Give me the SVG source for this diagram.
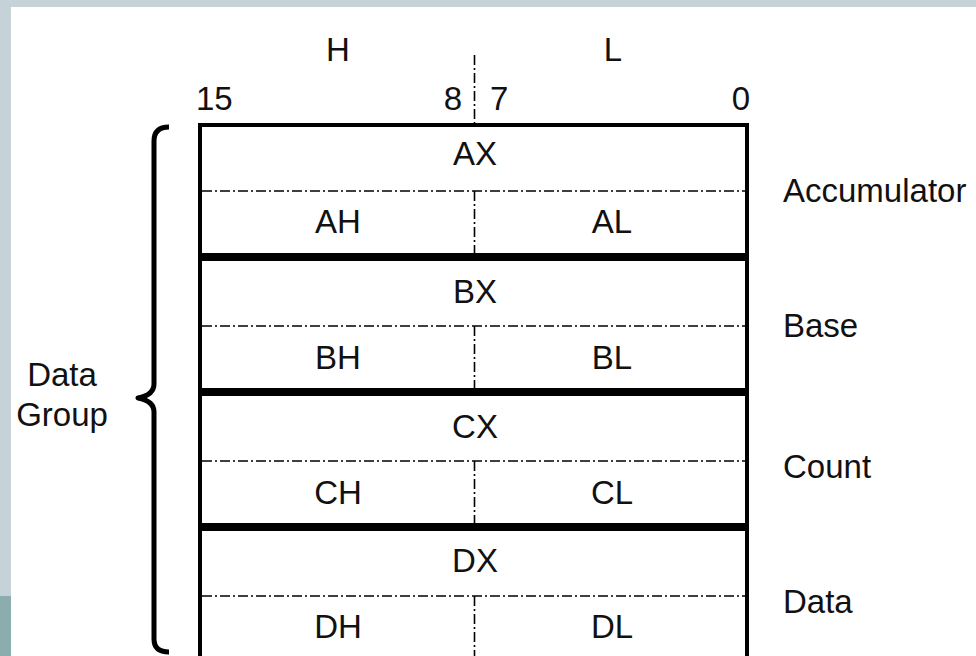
<svg xmlns="http://www.w3.org/2000/svg" width="976" height="656" viewBox="0 0 976 656">
<defs>
<style>
text{font-family:"Liberation Sans",Arial,sans-serif;font-size:33px;fill:#111}
.m{text-anchor:middle}
.e{text-anchor:end}
.thick{stroke:#000;stroke-width:8}
.frame{stroke:#000;stroke-width:4;fill:none}
.dd{stroke:#000;stroke-width:1.6;stroke-dasharray:10 3 2 3;fill:none}
.brace{stroke:#000;stroke-width:5;fill:none;stroke-linejoin:round}
</style>
</defs>
<rect x="0" y="0" width="976" height="656" fill="#ffffff"/>
<rect x="0" y="0" width="976" height="7" fill="#c5d3d9"/>
<rect x="0" y="0" width="11" height="596" fill="#c5d3d9"/>
<rect x="0" y="596" width="11" height="60" fill="#8badad"/>

<g id="header">
<text class="m" x="338" y="61">H</text>
<text class="m" x="613" y="61">L</text>
<text x="196" y="110">15</text>
<text class="e" x="462" y="110">8</text>
<text x="490" y="110">7</text>
<text class="e" x="750" y="110">0</text>
<line class="dd" x1="474.5" y1="55" x2="474.5" y2="123"/>
</g>

<g id="frame">
<line class="frame" x1="200" y1="125" x2="747" y2="125"/>
<line class="frame" x1="200" y1="123" x2="200" y2="660"/>
<line class="frame" x1="747" y1="123" x2="747" y2="660"/>
</g>

<g id="AX">
<text class="m" x="475" y="165">AX</text>
<line class="dd" x1="202" y1="191" x2="745" y2="191"/>
<line class="dd" x1="474.5" y1="191" x2="474.5" y2="253"/>
<text class="m" x="338" y="233">AH</text>
<text class="m" x="612" y="233">AL</text>
<line class="thick" x1="198" y1="257" x2="749" y2="257"/>
<text x="783" y="202">Accumulator</text>
</g>

<g id="BX">
<text class="m" x="475" y="303">BX</text>
<line class="dd" x1="202" y1="326" x2="745" y2="326"/>
<line class="dd" x1="474.5" y1="326" x2="474.5" y2="388"/>
<text class="m" x="338" y="369">BH</text>
<text class="m" x="612" y="369">BL</text>
<line class="thick" x1="198" y1="392" x2="749" y2="392"/>
<text x="783" y="337">Base</text>
</g>

<g id="CX">
<text class="m" x="475" y="438">CX</text>
<line class="dd" x1="202" y1="461" x2="745" y2="461"/>
<line class="dd" x1="474.5" y1="461" x2="474.5" y2="523"/>
<text class="m" x="338" y="504">CH</text>
<text class="m" x="612" y="504">CL</text>
<line class="thick" x1="198" y1="527" x2="749" y2="527"/>
<text x="783" y="478">Count</text>
</g>

<g id="DX">
<text class="m" x="475" y="572">DX</text>
<line class="dd" x1="202" y1="596" x2="745" y2="596"/>
<line class="dd" x1="474.5" y1="596" x2="474.5" y2="660"/>
<text class="m" x="338" y="638">DH</text>
<text class="m" x="612" y="638">DL</text>
<text x="783" y="613">Data</text>
</g>

<g id="data-group">
<path class="brace" d="M169 127 Q154 127 154 141 L154 384 Q154 395 138 398 Q154 401 154 412 L154 639 Q154 652 169 652"/>
<text class="m" x="62" y="386">Data</text>
<text class="m" x="62" y="426">Group</text>
</g>
</svg>
